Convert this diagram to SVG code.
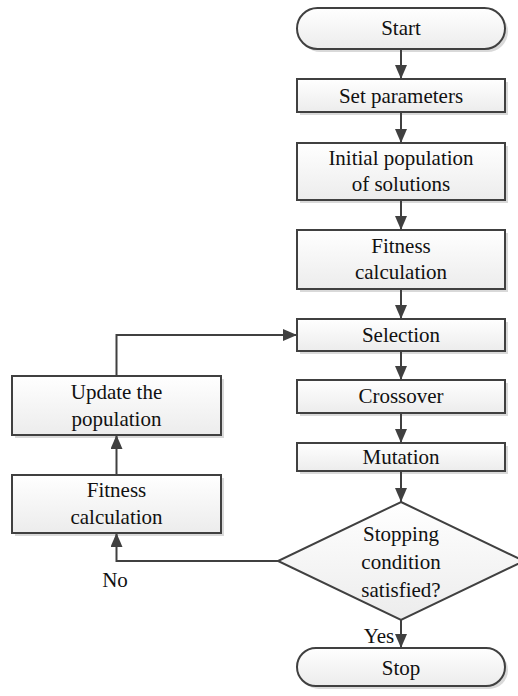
<svg xmlns="http://www.w3.org/2000/svg" width="518" height="696" viewBox="0 0 518 696">
<defs>
<linearGradient id="g" x1="0" y1="0" x2="0" y2="1">
<stop offset="0" stop-color="#ffffff"/>
<stop offset="1" stop-color="#ececec"/>
</linearGradient>
<marker id="ah" viewBox="0 0 14 12" refX="14" refY="6" markerWidth="14" markerHeight="12" markerUnits="userSpaceOnUse" orient="auto">
<path d="M0,0 L14,6 L0,12 z" fill="#404040"/>
</marker>
</defs>
<g fill="#d9d9d9">
</g>
<g id="start">
<rect fill="#d9d9d9" x="300" y="11" width="208" height="41" rx="20.5"/>
<rect fill="url(#g)" stroke="#404040" stroke-width="2" x="297" y="8" width="208" height="41" rx="20.5"/>
<text x="401" y="35" font-family="Liberation Serif" font-size="21" text-anchor="middle" fill="#111">Start</text>
</g>
<g id="setparams">
<rect fill="#d9d9d9" x="300" y="82" width="208" height="33"/>
<rect fill="url(#g)" stroke="#404040" stroke-width="2" x="297" y="79" width="208" height="33"/>
<text x="401" y="103" font-family="Liberation Serif" font-size="21" text-anchor="middle" fill="#111">Set parameters</text>
</g>
<g id="initpop">
<rect fill="#d9d9d9" x="300" y="146" width="208" height="57"/>
<rect fill="url(#g)" stroke="#404040" stroke-width="2" x="297" y="143" width="208" height="57"/>
<text x="401" y="165" font-family="Liberation Serif" font-size="21" text-anchor="middle" fill="#111">Initial population</text>
<text x="401" y="191" font-family="Liberation Serif" font-size="21" text-anchor="middle" fill="#111">of solutions</text>
</g>
<g id="fitness1">
<rect fill="#d9d9d9" x="300" y="233" width="208" height="59"/>
<rect fill="url(#g)" stroke="#404040" stroke-width="2" x="297" y="230" width="208" height="59"/>
<text x="401" y="253" font-family="Liberation Serif" font-size="21" text-anchor="middle" fill="#111">Fitness</text>
<text x="401" y="279" font-family="Liberation Serif" font-size="21" text-anchor="middle" fill="#111">calculation</text>
</g>
<g id="selection">
<rect fill="#d9d9d9" x="300" y="322" width="208" height="32"/>
<rect fill="url(#g)" stroke="#404040" stroke-width="2" x="297" y="319" width="208" height="32"/>
<text x="401" y="342" font-family="Liberation Serif" font-size="21" text-anchor="middle" fill="#111">Selection</text>
</g>
<g id="crossover">
<rect fill="#d9d9d9" x="300" y="383" width="208" height="33"/>
<rect fill="url(#g)" stroke="#404040" stroke-width="2" x="297" y="380" width="208" height="33"/>
<text x="401" y="403" font-family="Liberation Serif" font-size="21" text-anchor="middle" fill="#111">Crossover</text>
</g>
<g id="mutation">
<rect fill="#d9d9d9" x="300" y="446" width="208" height="28"/>
<rect fill="url(#g)" stroke="#404040" stroke-width="2" x="297" y="443" width="208" height="28"/>
<text x="401" y="464" font-family="Liberation Serif" font-size="21" text-anchor="middle" fill="#111">Mutation</text>
</g>
<g id="decision">
<path fill="url(#g)" stroke="#404040" stroke-width="2" d="M401,502 L524,561 L401,620 L278,561 z"/>
<text x="401" y="541" font-family="Liberation Serif" font-size="21" text-anchor="middle" fill="#111">Stopping</text>
<text x="401" y="569" font-family="Liberation Serif" font-size="21" text-anchor="middle" fill="#111">condition</text>
<text x="401" y="597" font-family="Liberation Serif" font-size="21" text-anchor="middle" fill="#111">satisfied?</text>
</g>
<g id="stop">
<rect fill="#d9d9d9" x="300" y="651" width="208" height="38" rx="19"/>
<rect fill="url(#g)" stroke="#404040" stroke-width="2" x="297" y="648" width="208" height="38" rx="19"/>
<text x="401" y="675" font-family="Liberation Serif" font-size="21" text-anchor="middle" fill="#111">Stop</text>
</g>
<g id="update">
<rect fill="#d9d9d9" x="15" y="379" width="209" height="59"/>
<rect fill="url(#g)" stroke="#404040" stroke-width="2" x="12" y="376" width="209" height="59"/>
<text x="116.5" y="399" font-family="Liberation Serif" font-size="21" text-anchor="middle" fill="#111">Update the</text>
<text x="116.5" y="426" font-family="Liberation Serif" font-size="21" text-anchor="middle" fill="#111">population</text>
</g>
<g id="fitness2">
<rect fill="#d9d9d9" x="15" y="478" width="209" height="58"/>
<rect fill="url(#g)" stroke="#404040" stroke-width="2" x="12" y="475" width="209" height="58"/>
<text x="116.5" y="497" font-family="Liberation Serif" font-size="21" text-anchor="middle" fill="#111">Fitness</text>
<text x="116.5" y="524" font-family="Liberation Serif" font-size="21" text-anchor="middle" fill="#111">calculation</text>
</g>
<g id="connectors" fill="none" stroke="#404040" stroke-width="2">
<line x1="401" y1="49" x2="401" y2="79" marker-end="url(#ah)"/>
<line x1="401" y1="112" x2="401" y2="143" marker-end="url(#ah)"/>
<line x1="401" y1="200" x2="401" y2="230" marker-end="url(#ah)"/>
<line x1="401" y1="289" x2="401" y2="319" marker-end="url(#ah)"/>
<line x1="401" y1="351" x2="401" y2="380" marker-end="url(#ah)"/>
<line x1="401" y1="413" x2="401" y2="443" marker-end="url(#ah)"/>
<line x1="401" y1="471" x2="401" y2="502" marker-end="url(#ah)"/>
<line x1="401" y1="620" x2="401" y2="648" marker-end="url(#ah)"/>
<polyline points="278,561 116.5,561 116.5,533" marker-end="url(#ah)"/>
<line x1="116.5" y1="475" x2="116.5" y2="435" marker-end="url(#ah)"/>
<polyline points="116.5,376 116.5,335 297,335" marker-end="url(#ah)"/>
<text x="115" y="587" font-family="Liberation Serif" font-size="21" text-anchor="middle" fill="#111" stroke="none">No</text>
<text x="379" y="643" font-family="Liberation Serif" font-size="21" text-anchor="middle" fill="#111" stroke="none">Yes</text>
</g>
</svg>
